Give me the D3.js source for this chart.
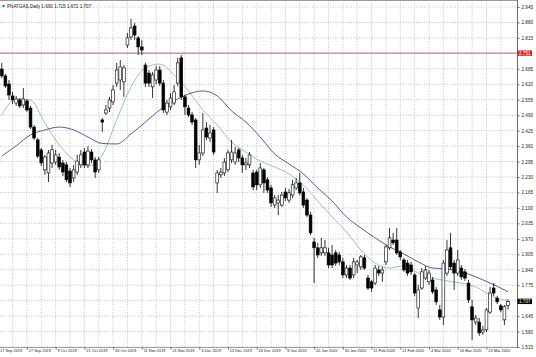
<!DOCTYPE html>
<html>
<head>
<meta charset="utf-8">
<script src="https://cdn.jsdelivr.net/npm/d3@7"></script>
<style>
html, body { margin: 0; padding: 0; background: #fff; }
svg { display: block; font-family: "Liberation Sans", Arial, sans-serif; }
</style>
</head>
<body>
<svg id="chart" width="536" height="357"></svg>
<script>
// header info
const symbolName = "PNATGAS,Daily";
const lastBar = ["1.690", "1.715", "1.672", "1.707"];

// bottom axis: date of the bar each label sits on (bar index)
const dateLabels = ["17 Sep 2019", "27 Sep 2019", "9 Oct 2019", "21 Oct 2019", "30 Oct 2019",
  "11 Nov 2019", "21 Nov 2019", "3 Dec 2019", "13 Dec 2019", "26 Dec 2019", "8 Jan 2020",
  "20 Jan 2020", "30 Jan 2020", "11 Feb 2020", "21 Feb 2020", "4 Mar 2020", "13 Mar 2020",
  "23 Mar 2020"];
const dateBars = [-1, 7, 15, 23, 31, 39, 47, 55, 63, 71, 79, 87, 95, 103, 111, 119, 127, 135];

// right axis
const priceTicks = [2.945, 2.880, 2.815, 2.750, 2.685, 2.620, 2.555, 2.490, 2.425, 2.360, 2.295,
  2.230, 2.165, 2.100, 2.035, 1.970, 1.905, 1.840, 1.775, 1.710, 1.645, 1.580, 1.515];
const hiddenTicks = [2.750, 1.710];
const refLevel = 2.751;

// daily candles
const open = [2.684,2.655,2.621,2.571,2.541,2.554,2.533,2.550,2.520,2.440,
  2.386,2.344,2.260,2.247,2.289,2.293,2.314,2.289,2.281,2.255,
  2.226,2.251,2.281,2.335,2.281,2.335,2.302,2.260,2.470,2.499,
  2.520,2.546,2.625,2.638,2.630,2.785,2.819,2.865,2.815,2.777,
  2.701,2.667,2.609,2.638,2.680,2.625,2.503,2.525,2.541,2.625,
  2.731,2.567,2.520,2.491,2.470,2.302,2.331,2.436,2.394,2.428,
  2.205,2.239,2.247,2.260,2.302,2.293,2.344,2.310,2.281,2.281,
  2.247,2.251,2.197,2.260,2.218,2.184,2.112,2.121,2.112,2.167,
  2.133,2.154,2.184,2.205,2.167,2.133,2.070,1.957,1.932,1.911,
  1.911,1.911,1.902,1.911,1.902,1.873,1.818,1.847,1.818,1.860,
  1.852,1.890,1.805,1.789,1.784,1.839,1.826,1.873,1.932,1.965,
  1.965,1.915,1.881,1.868,1.860,1.818,1.679,1.763,1.805,1.789,
  1.797,1.755,1.671,1.641,1.826,1.932,1.868,1.826,1.847,1.831,
  1.784,1.684,1.620,1.620,1.578,1.587,1.662,1.763,1.721,1.688,
  1.629,1.690];
const high = [2.710,2.663,2.638,2.588,2.571,2.562,2.604,2.558,2.529,2.449,
  2.394,2.352,2.323,2.344,2.365,2.344,2.331,2.302,2.293,2.268,
  2.281,2.323,2.344,2.352,2.360,2.348,2.314,2.314,2.478,2.533,
  2.567,2.617,2.710,2.722,2.701,2.836,2.895,2.878,2.823,2.806,
  2.710,2.680,2.672,2.697,2.697,2.638,2.554,2.583,2.617,2.731,
  2.743,2.575,2.533,2.503,2.478,2.365,2.499,2.461,2.449,2.440,
  2.260,2.268,2.310,2.344,2.386,2.356,2.352,2.323,2.310,2.335,
  2.260,2.260,2.289,2.268,2.230,2.197,2.154,2.154,2.167,2.184,
  2.180,2.218,2.226,2.247,2.184,2.142,2.083,1.974,1.953,1.974,
  1.965,1.932,1.944,1.923,1.915,1.890,1.860,1.860,1.890,1.881,
  1.902,1.902,1.818,1.797,1.860,1.856,1.852,1.944,2.016,1.995,
  2.016,1.923,1.890,1.881,1.873,1.826,1.776,1.847,1.856,1.839,
  1.810,1.768,1.692,1.881,1.965,1.995,1.881,1.923,1.860,1.843,
  1.797,1.713,1.650,1.637,1.604,1.679,1.768,1.784,1.730,1.696,
  1.692,1.715];
const low = [2.646,2.604,2.554,2.537,2.529,2.520,2.520,2.503,2.432,2.386,
  2.310,2.276,2.239,2.209,2.268,2.281,2.260,2.234,2.209,2.188,
  2.209,2.239,2.268,2.268,2.268,2.289,2.226,2.247,2.419,2.491,
  2.503,2.533,2.609,2.596,2.567,2.773,2.806,2.806,2.743,2.743,
  2.609,2.609,2.562,2.621,2.613,2.499,2.491,2.512,2.533,2.613,
  2.554,2.491,2.482,2.449,2.268,2.281,2.318,2.386,2.377,2.323,
  2.163,2.226,2.234,2.251,2.289,2.281,2.293,2.247,2.260,2.268,
  2.175,2.175,2.184,2.163,2.163,2.104,2.100,2.070,2.104,2.129,
  2.121,2.142,2.175,2.154,2.100,2.062,1.986,1.784,1.890,1.898,
  1.898,1.847,1.847,1.856,1.860,1.805,1.805,1.797,1.805,1.826,
  1.839,1.839,1.755,1.747,1.776,1.814,1.789,1.860,1.923,1.944,
  1.902,1.881,1.831,1.814,1.818,1.730,1.637,1.755,1.797,1.776,
  1.738,1.692,1.629,1.608,1.814,1.839,1.755,1.814,1.797,1.793,
  1.700,1.545,1.608,1.562,1.566,1.578,1.654,1.730,1.696,1.662,
  1.608,1.672];
const close = [2.655,2.613,2.575,2.554,2.558,2.529,2.558,2.512,2.440,2.394,
  2.318,2.289,2.314,2.331,2.344,2.323,2.272,2.251,2.218,2.205,
  2.260,2.297,2.323,2.281,2.339,2.302,2.251,2.302,2.461,2.512,
  2.554,2.596,2.680,2.693,2.689,2.815,2.857,2.827,2.777,2.764,
  2.625,2.625,2.659,2.680,2.625,2.512,2.541,2.562,2.588,2.710,
  2.567,2.525,2.491,2.461,2.302,2.331,2.428,2.398,2.415,2.335,
  2.247,2.251,2.293,2.331,2.335,2.331,2.310,2.281,2.289,2.323,
  2.188,2.197,2.268,2.205,2.175,2.121,2.142,2.133,2.154,2.142,
  2.163,2.197,2.205,2.163,2.112,2.070,1.995,1.932,1.902,1.932,
  1.932,1.860,1.860,1.868,1.873,1.818,1.847,1.805,1.873,1.873,
  1.894,1.847,1.763,1.763,1.847,1.826,1.839,1.936,1.974,1.953,
  1.911,1.894,1.839,1.826,1.831,1.742,1.755,1.831,1.839,1.826,
  1.747,1.705,1.641,1.868,1.923,1.852,1.826,1.881,1.810,1.805,
  1.713,1.629,1.637,1.574,1.587,1.671,1.742,1.742,1.705,1.671,
  1.684,1.707];

// moving averages every 4 bars
const maBars = [0,4,8,12,16,20,24,28,32,36,40,44,48,52,56,60,64,68,72,76,80,84,88,92,
  96,100,104,108,112,116,120,124,128,132,136,140,141];
const maFast = [2.491,2.558,2.554,2.457,2.365,2.302,2.276,2.323,2.470,2.609,2.689,2.705,
  2.659,2.592,2.512,2.449,2.377,2.335,2.297,2.272,2.243,2.196,2.129,2.062,1.999,1.923,
  1.868,1.847,1.856,1.826,1.805,1.793,1.784,1.768,1.734,1.713,1.713];
const maSlow = [2.318,2.361,2.407,2.428,2.440,2.428,2.398,2.371,2.369,2.411,2.461,2.512,
  2.550,2.579,2.592,2.571,2.508,2.461,2.398,2.327,2.285,2.243,2.184,2.129,2.062,2.016,
  1.974,1.936,1.906,1.873,1.847,1.843,1.831,1.810,1.784,1.755,1.747];

const bars = open.map((o, i) => ({ i, o, h: high[i], l: low[i], c: close[i] }));

const svg = d3.select("#chart");
const plot = { left: 0, right: 517, top: 0, bottom: 347 };

const x = d3.scaleLinear().domain([0, 141]).range([1.8, 508]);
const y = d3.scaleLinear().domain([1.515, 2.945]).range([347, 7]);

// grid
const gridBars = dateBars.flatMap(d => [d, d + 4]).filter(d => x(d) < plot.right);
const grid = svg.append("g").attr("stroke", "#b8b8b8").attr("stroke-width", 0.9)
  .attr("stroke-dasharray", "1,1.6");
grid.selectAll("line.h").data(priceTicks).join("line")
  .attr("x1", plot.left).attr("x2", plot.right)
  .attr("y1", d => y(d)).attr("y2", d => y(d));
grid.selectAll("line.v").data(gridBars).join("line")
  .attr("x1", d => x(d)).attr("x2", d => x(d))
  .attr("y1", plot.top).attr("y2", plot.bottom);

// reference level
svg.append("line")
  .attr("x1", plot.left).attr("x2", plot.right)
  .attr("y1", y(refLevel)).attr("y2", y(refLevel))
  .attr("stroke", "#b55a5a").attr("stroke-width", 0.9);

// moving averages
const maLine = arr => d3.line()
  .x((d, k) => x(maBars[k]))
  .y(d => y(d))
  .curve(d3.curveMonotoneX)(arr);
svg.append("path").attr("d", maLine(maFast))
  .attr("fill", "none").attr("stroke", "#86c2a4").attr("stroke-width", 0.9);
svg.append("path").attr("d", maLine(maSlow))
  .attr("fill", "none").attr("stroke", "#46468e").attr("stroke-width", 0.9);

// candles
const bw = 2.8;
const candle = svg.append("g").selectAll("g").data(bars).join("g");
candle.append("line")
  .attr("x1", d => x(d.i)).attr("x2", d => x(d.i))
  .attr("y1", d => y(d.h)).attr("y2", d => y(d.l))
  .attr("stroke", "#000").attr("stroke-width", 0.8);
candle.append("rect")
  .attr("x", d => x(d.i) - bw / 2)
  .attr("width", bw)
  .attr("y", d => y(Math.max(d.o, d.c)))
  .attr("height", d => Math.max(0.8, Math.abs(y(d.o) - y(d.c))))
  .attr("fill", d => d.c >= d.o ? "#fff" : "#000")
  .attr("stroke", "#000").attr("stroke-width", 0.6);

// frame
svg.append("line").attr("x1", 0).attr("x2", plot.right).attr("y1", 0.5).attr("y2", 0.5)
  .attr("stroke", "#9a9a9a").attr("stroke-width", 1);
svg.append("line").attr("x1", 0).attr("x2", plot.right + 0.5)
  .attr("y1", plot.bottom + 0.5).attr("y2", plot.bottom + 0.5)
  .attr("stroke", "#8a8a8a").attr("stroke-width", 0.8);

// right axis
const yAxis = d3.axisRight(y)
  .tickValues(priceTicks.filter(d => !hiddenTicks.includes(d)))
  .tickSize(2).tickPadding(2)
  .tickFormat(d3.format(".3f"));
const ya = svg.append("g").attr("transform", `translate(${plot.right + 0.5},0)`).call(yAxis);
ya.select(".domain").attr("d", `M0,0V${plot.bottom + 1}`).attr("stroke", "#6a6a6a");
ya.selectAll(".tick line").attr("stroke", "#6a6a6a");
ya.selectAll("text").attr("font-size", 4.6).attr("fill", "#222").attr("font-family", null);

// bottom axis
const xAxis = d3.axisBottom(x).tickValues(dateBars)
  .tickSize(2).tickFormat((d, k) => dateLabels[k]);
const xa = svg.append("g").attr("transform", `translate(0,${plot.bottom + 0.5})`).call(xAxis);
xa.select(".domain").remove();
xa.selectAll(".tick line").attr("stroke", "#6a6a6a");
xa.selectAll("text").attr("font-size", 3.9).attr("fill", "#222").attr("font-family", null)
  .attr("text-anchor", "start").attr("dx", 1.4).attr("y", 1.8).attr("dy", "0.71em");

// price tags on the right axis
const tag = (v, label, fill) => {
  const g = svg.append("g").attr("transform", `translate(${plot.right},${y(v)})`);
  g.append("rect").attr("x", 0.5).attr("y", -2.7).attr("width", 14.5).attr("height", 5.4)
    .attr("fill", fill);
  g.append("text").attr("x", 2).attr("y", 0).attr("dy", "0.35em")
    .attr("font-size", 4.6).attr("fill", "#fff").text(label);
};
tag(refLevel, refLevel.toFixed(3), "#e0201c");
tag(+lastBar[3], lastBar[3], "#000");

// header
svg.append("path").attr("d", "M2,5.2L5,5.2L3.5,7.4Z").attr("fill", "#333");
svg.append("text").attr("x", 7).attr("y", 7.6)
  .attr("font-size", 4.6).attr("fill", "#222")
  .text(`${symbolName}  ${lastBar.join(" ")}`);
</script>
</body>
</html>
